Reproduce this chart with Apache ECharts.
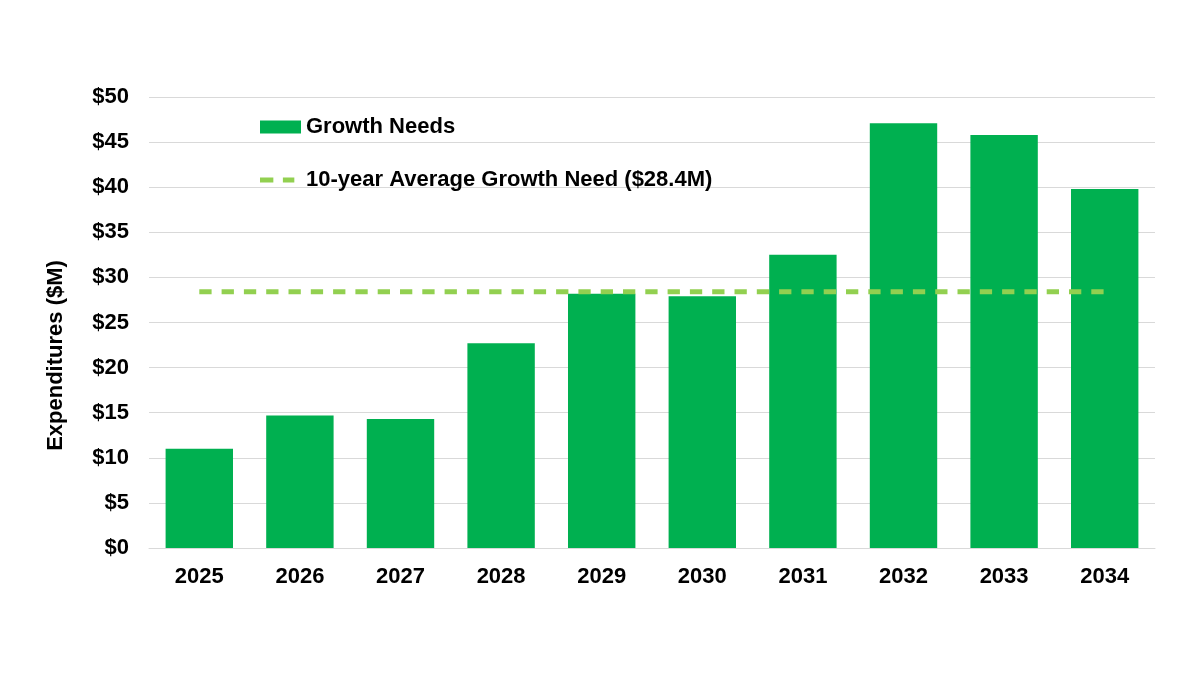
<!DOCTYPE html>
<html>
<head>
<meta charset="utf-8">
<script src="https://cdn.jsdelivr.net/npm/echarts@6/dist/echarts.min.js"></script>
<style>
html,body{margin:0;padding:0;background:#fff;}
#c{width:1200px;height:675px;}
</style>
</head>
<body>
<div id="c"></div>
<script>
const categories = ['2025','2026','2027','2028','2029','2030','2031','2032','2033','2034'];
const growthNeeds = [11.0, 14.7, 14.3, 22.7, 28.2, 27.9, 32.5, 47.1, 45.8, 39.8];
const averageNeed = [28.4, 28.4, 28.4, 28.4, 28.4, 28.4, 28.4, 28.4, 28.4, 28.4];
const yTicks = [0, 5, 10, 15, 20, 25, 30, 35, 40, 45, 50];

const font = 'Liberation Sans, Arial, sans-serif';
const dashIcon = 'path://M0,0h41v0.01h-41z M0,12.99h41v0.01h-41z M-2,4h14v5h-14z M22,4h12v5h-12z';
const chart = echarts.init(document.getElementById('c'));
chart.setOption({
  animation: false,
  backgroundColor: '#ffffff',
  grid: { left: 149, right: 45, top: 97, bottom: 127, containLabel: false },
  legend: {
    orient: 'vertical',
    left: 255,
    top: 111,
    itemWidth: 41,
    itemHeight: 13,
    itemGap: 31,
    textStyle: { fontFamily: font, fontSize: 22, fontWeight: 'bold', color: '#000' },
    data: [
      { name: 'Growth Needs', icon: 'rect' },
      { name: '10-year Average Growth Need ($28.4M)', icon: dashIcon }
    ]
  },
  xAxis: {
    type: 'category',
    data: categories,
    axisLine: { lineStyle: { color: '#d9d9d9', width: 1 } },
    axisTick: { show: false },
    axisLabel: { fontFamily: font, fontSize: 22, fontWeight: 'bold', color: '#000', margin: 18 }
  },
  yAxis: {
    type: 'value',
    min: yTicks[0],
    max: yTicks[yTicks.length - 1],
    interval: 5,
    name: 'Expenditures ($M)',
    nameLocation: 'middle',
    nameGap: 82,
    nameTextStyle: { fontFamily: font, fontSize: 22, fontWeight: 'bold', color: '#000', padding: [0, 66, 0, 0] },
    axisLine: { show: false },
    axisTick: { show: false },
    splitLine: { lineStyle: { color: '#d9d9d9', width: 1 } },
    axisLabel: { fontFamily: font, fontSize: 22, fontWeight: 'bold', color: '#000', margin: 20,
      formatter: v => '$' + v }
  },
  series: [
    {
      name: 'Growth Needs',
      type: 'bar',
      data: growthNeeds,
      barCategoryGap: '33%',
      itemStyle: { color: '#00b050' }
    },
    {
      name: '10-year Average Growth Need ($28.4M)',
      type: 'line',
      data: averageNeed,
      symbol: 'none',
      lineStyle: { color: '#92d050', width: 5, type: [12.3, 10] },
      itemStyle: { color: '#92d050' },
      z: 5
    }
  ]
});
</script>
</body>
</html>
